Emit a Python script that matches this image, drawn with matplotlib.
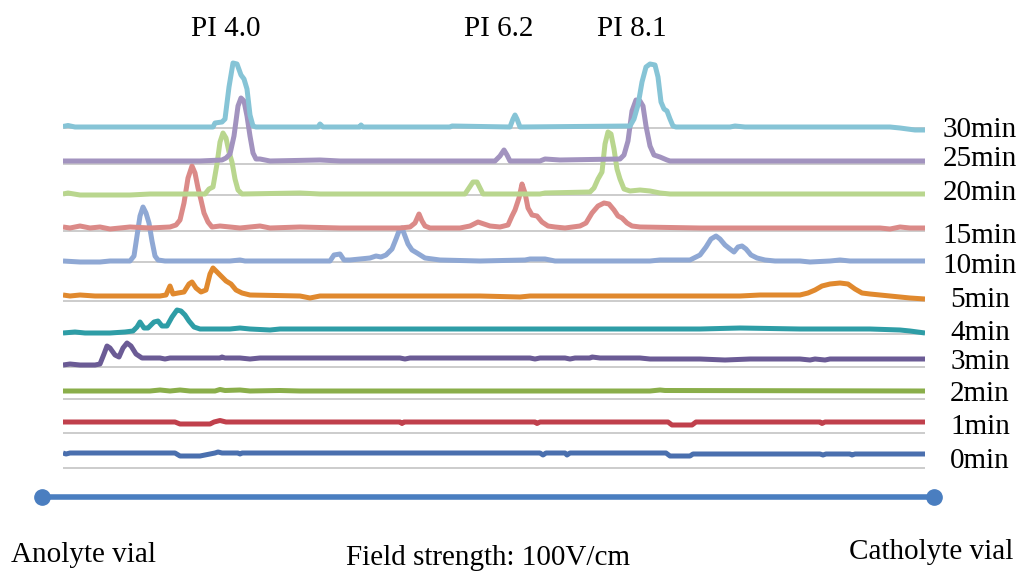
import matplotlib
matplotlib.use("Agg")
import matplotlib.pyplot as plt

# Whole-column imaging CIEF: absorbance profiles along the capillary (detector pixel)
# recorded at successive focusing times.
times = ["0min", "1min", "2min", "3min", "4min", "5min",
         "10min", "15min", "20min", "25min", "30min"]

# vertical offset of each stacked trace (a.u.)
offsets = [0, 31, 62, 95, 124, 157, 192, 225, 259, 292, 326]
# each stacked panel's own x-axis sits a little below its trace
axis_gap = [15, 11, 8, 9, 5, 5, 1, 3, 1, 3, 1]

colors = ["#4A6FAE", "#C0404C", "#8AAE4A", "#6B5B95", "#2E9DA6", "#E0892E",
          "#8FA8D4", "#DB8A88", "#B9D68E", "#A293BF", "#86C4D6"]

# (detector pixel, absorbance) vertices of every profile
trace_0min = [(63, 0), (66, -1), (70, 0), (175, 0), (180, -3), (200, -3), (210, -1),
              (215, 0), (218, 1), (222, 0), (238, 0), (240, -1), (242, 0), (540, 0),
              (543, -2), (546, 0), (565, 0), (567, -2), (570, 0), (666, 0), (670, -3),
              (690, -3), (693, -1), (820, -1), (823, -2), (826, -1), (850, -1),
              (852, -2), (855, -1), (925, -1)]
trace_1min = [(63, 0), (175, 0), (180, -2), (210, -2), (214, 0), (220, 1.5), (226, 0),
              (400, 0), (402, -1.5), (404, 0), (535, 0), (537, -1.5), (540, 0), (668, 0),
              (672, -3), (692, -3), (696, 0), (820, 0), (822, -1.5), (825, 0), (925, 0)]
trace_2min = [(63, 0), (150, 0), (160, 1), (170, 0), (180, 1), (190, 0), (215, 0),
              (220, 1.5), (225, 0.5), (240, 1), (250, 0), (280, 0.5), (300, 0), (650, 0),
              (660, 1), (665, 0.5), (925, 0)]
trace_3min = [(63, -7), (70, -6), (80, -7), (95, -7), (100, -6), (104, 4), (107, 12),
              (110, 10), (115, 3), (119, 1), (123, 10), (127, 15), (131, 12), (136, 4),
              (142, 0), (160, 0), (165, -1), (170, 0), (220, 0), (222, 1), (225, 0),
              (240, 0), (250, -1), (260, 0), (400, 0), (405, -1), (410, 0), (530, 0),
              (535, -1), (540, 0), (565, 0), (570, -1), (575, 0), (590, 0), (592, 1),
              (600, 0), (640, 0), (650, -1), (700, -1), (725, -2), (750, -1), (800, -1),
              (810, -2), (815, -1), (825, -2), (830, -1), (925, -1)]
trace_4min = [(63, -4), (75, -3), (85, -4), (110, -4), (125, -3), (133, -2), (137, 2),
              (140, 7), (144, 1), (148, 1), (154, 7), (158, 8), (162, 3), (167, 3),
              (172, 12), (177, 19), (181, 18), (185, 14), (189, 8), (194, 2), (200, 0),
              (230, 0), (240, 1), (250, 0), (270, -1), (280, 0), (700, 0), (720, 0.5),
              (740, 1), (800, 0), (870, 0), (900, -1), (910, -2), (925, -4)]
trace_5min = [(63, 1), (70, 0), (80, 1), (95, 0), (160, 0), (166, 1), (170, 10),
              (173, 2), (178, 3), (184, 4), (189, 12), (192, 14), (196, 8), (201, 4),
              (206, 6), (210, 22), (213, 28), (217, 24), (221, 20), (226, 15), (231, 12),
              (236, 6), (242, 3), (250, 1), (300, 0), (310, -2), (320, 0), (480, 0),
              (520, -1), (530, 0), (740, 0), (760, 1), (800, 1), (808, 3), (815, 6),
              (822, 10), (830, 12), (840, 13), (848, 12), (855, 7), (862, 3), (870, 2),
              (880, 1), (890, 0), (900, -1), (910, -2), (925, -3)]
trace_10min = [(63, 0), (80, -1), (100, -1), (110, 0), (130, 0), (134, 5), (137, 25),
               (140, 45), (143, 54), (146, 48), (149, 38), (152, 20), (155, 5), (158, 1),
               (165, 0), (230, 0), (240, 1), (245, 0), (330, 0), (334, 6), (340, 7),
               (344, 1), (350, 1), (370, 3), (376, 5), (381, 4), (386, 6), (392, 12),
               (396, 22), (399, 30), (402, 33), (405, 25), (408, 17), (412, 11),
               (417, 8), (425, 3), (440, 1), (480, 0), (525, 1), (530, 2), (545, 2),
               (555, 0), (650, 0), (660, 1), (690, 1), (700, 6), (706, 14), (711, 22),
               (716, 25), (720, 22), (725, 16), (730, 12), (734, 9), (738, 14),
               (742, 15), (746, 12), (751, 6), (757, 3), (765, 1), (775, 0), (800, 0),
               (810, -1), (830, 0), (840, 1), (850, 0), (925, 0)]
trace_15min = [(63, 1), (70, 0), (80, 2), (90, 0), (100, 1), (110, -1), (130, 1),
               (150, 0), (170, 1), (176, 3), (180, 8), (184, 25), (188, 50), (192, 62),
               (195, 55), (198, 40), (201, 28), (204, 15), (208, 6), (212, 1), (220, 2),
               (240, 0), (260, 2), (270, 0), (300, 1), (340, 0), (400, 0), (410, 1),
               (415, 5), (419, 14), (422, 7), (425, 2), (430, 0), (460, 0), (470, 2),
               (478, 6), (484, 4), (490, 2), (500, 1), (508, 3), (512, 12), (515, 18),
               (519, 30), (522, 44), (525, 35), (528, 20), (532, 13), (537, 12),
               (542, 6), (548, 2), (555, 1), (565, 0), (580, 2), (586, 5), (592, 15),
               (598, 22), (604, 25), (609, 24), (614, 18), (618, 12), (622, 10),
               (627, 5), (632, 2), (640, 1), (700, 0), (880, 0), (890, -1), (900, 1),
               (910, 0), (925, 0)]
trace_20min = [(63, 0), (68, 1), (80, -1), (130, -1), (150, 0), (205, 0), (209, 5),
               (213, 7), (217, 30), (220, 52), (223, 61), (226, 56), (229, 42),
               (232, 32), (235, 15), (238, 4), (242, 0), (300, 1), (320, 0), (465, 0),
               (469, 6), (473, 12), (477, 12), (480, 6), (483, 0), (540, 0), (545, 1),
               (590, 2), (594, 6), (598, 15), (602, 22), (605, 50), (608, 62), (611, 60),
               (614, 45), (617, 25), (620, 15), (624, 5), (630, 3), (640, 4), (650, 3),
               (660, 1), (670, 0), (925, 0)]
trace_25min = [(63, 0), (200, 0), (222, 1), (226, 3), (230, 7), (234, 25), (238, 55),
               (241, 63), (244, 60), (247, 45), (250, 25), (253, 8), (256, 2), (260, 2),
               (265, 1), (270, 0), (320, 1), (340, 0), (495, 0), (500, 5), (504, 11),
               (507, 6), (510, 0), (540, 0), (545, 2), (560, 1), (620, 2), (624, 6),
               (628, 20), (632, 50), (636, 61), (640, 60), (643, 55), (646, 35),
               (650, 15), (654, 6), (660, 4), (667, 1), (670, 0), (925, 0)]
trace_30min = [(63, 0.5), (68, 1.5), (75, 0), (213, 0), (215, 4), (222, 5), (225, 8),
               (229, 40), (233, 64), (237, 63), (241, 52), (244, 48), (247, 38),
               (250, 12), (253, 1), (256, 0), (318, 0), (320, 3), (323, 0), (360, 0),
               (361, 2), (363, 0), (450, 0), (452, 1), (510, 0), (513, 8), (515, 12),
               (517, 8), (520, 0), (630, 1), (634, 8), (638, 22), (642, 45), (646, 60),
               (650, 63), (655, 62), (658, 50), (661, 25), (664, 18), (667, 16),
               (670, 8), (673, 1), (676, 0), (730, 0), (735, 1), (745, 0), (890, 0),
               (900, -1), (915, -3), (925, -3)]

traces = [trace_0min, trace_1min, trace_2min, trace_3min, trace_4min, trace_5min,
          trace_10min, trace_15min, trace_20min, trace_25min, trace_30min]

pi_labels = ["PI 4.0", "PI 6.2", "PI 8.1"]
pi_pixels = [226, 499, 632]

W, H = 1019, 572
fig = plt.figure(figsize=(W / 100, H / 100), dpi=100)
fig.patch.set_facecolor("white")

# profiles: detector pixels 63..925, signal scaled so 1 a.u. = 1 px
ax = fig.add_axes([63 / W, 0, 862 / W, 1])
ax.set_xlim(63, 925)
ax.set_ylim(453 - H, 453)
ax.axis("off")

for i, (tr, off, gap, col) in enumerate(zip(traces, offsets, axis_gap, colors)):
    xs = [p[0] for p in tr]
    ys = [p[1] + off for p in tr]
    ax.plot([63, 925], [off - gap, off - gap], color="#C8C8C8", lw=1.3,
            zorder=1, solid_capstyle="butt")
    ax.plot(xs, ys, color=col, lw=3.6, solid_joinstyle="round",
            solid_capstyle="butt", zorder=2 + i)

# annotation layer in figure pixels
ov = fig.add_axes([0, 0, 1, 1], facecolor="none")
ov.set_xlim(0, W)
ov.set_ylim(H, 0)
ov.axis("off")

serif = ["Liberation Serif", "DejaVu Serif"]
FS = 21
label_y = [461, 427, 394, 362, 333, 300, 266, 236, 193, 159, 130]
for t, yy in zip(times, label_y):
    ov.text(980, yy, t, ha="center", va="center", fontsize=FS, family=serif)

for lab, px in zip(pi_labels, pi_pixels):
    ov.text(px, 29, lab, ha="center", va="center", fontsize=FS, family=serif)

# capillary: anolyte (left) to catholyte (right)
ov.plot([42, 934], [497, 497], color="#4A7EC0", lw=4, solid_capstyle="butt")
ov.plot([42, 934], [497, 497], "o", color="#4A7EC0", ms=11, mec="#4A7EC0")

ov.text(84, 555, "Anolyte vial", ha="center", va="center", fontsize=FS, family=serif)
ov.text(488, 558, "Field strength: 100V/cm", ha="center", va="center",
        fontsize=FS, family=serif)
ov.text(931, 552, "Catholyte vial", ha="center", va="center", fontsize=FS, family=serif)

fig.savefig("out.png", dpi=100, facecolor="white")
